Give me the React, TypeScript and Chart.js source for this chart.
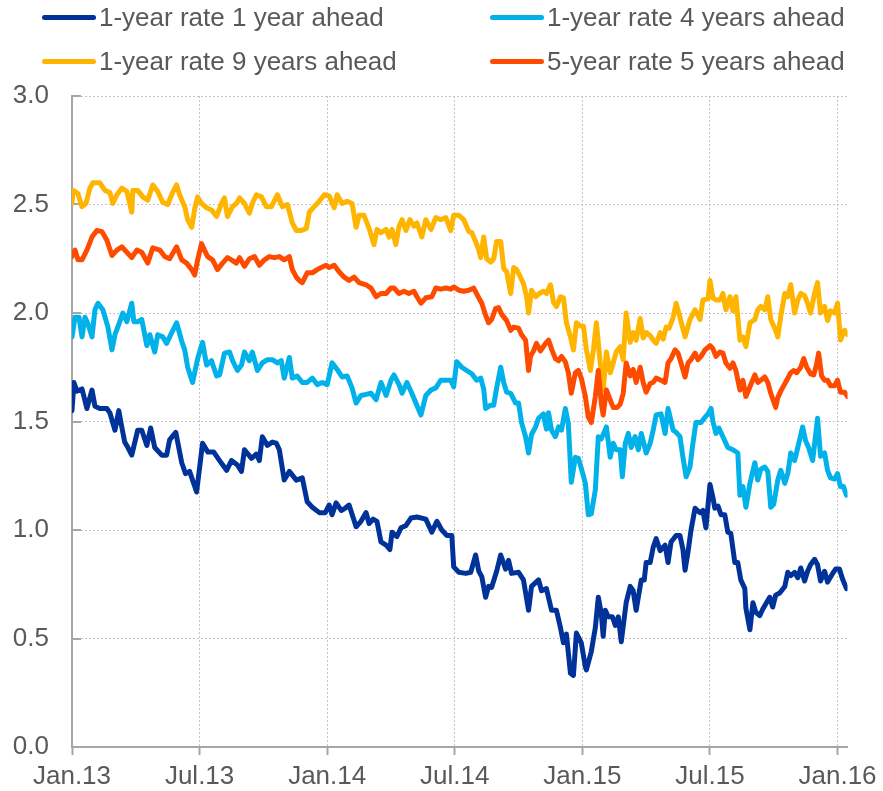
import React, { useEffect, useRef } from "react";
import { Chart, registerables } from "chart.js";

Chart.register(...registerables);

// x = months since January 2013, y = rate (%)
const xTickMonths = [0, 6, 12, 18, 24, 30, 36];
const xTickLabels = ["Jan.13", "Jul.13", "Jan.14", "Jul.14", "Jan.15", "Jul.15", "Jan.16"];
const yTicks = [0, 0.5, 1.0, 1.5, 2.0, 2.5, 3.0];

const seriesNames = [
  "1-year rate 1 year ahead",
  "1-year rate 4 years ahead",
  "1-year rate 9 years ahead",
  "5-year rate 5 years ahead",
];
const seriesColors = ["#003299", "#00B1EA", "#FFB400", "#FF4B00"];

const rate1y1y: [number, number][] = [
  [0, 1.55], [0.09, 1.68], [0.23, 1.64], [0.47, 1.65], [0.70, 1.56], [0.94, 1.645], [1.08, 1.57], [1.31, 1.56],
  [1.64, 1.56], [1.78, 1.54], [2.02, 1.46], [2.20, 1.55], [2.34, 1.475], [2.48, 1.405], [2.63, 1.38], [2.81, 1.345],
  [3.09, 1.46], [3.28, 1.46], [3.52, 1.39], [3.70, 1.47], [3.89, 1.38], [4.22, 1.345], [4.45, 1.345], [4.59, 1.415],
  [4.88, 1.45], [5.16, 1.31], [5.34, 1.26], [5.53, 1.27], [5.86, 1.175], [6.14, 1.40], [6.38, 1.36], [6.66, 1.36],
  [6.94, 1.32], [7.27, 1.275], [7.50, 1.32], [7.78, 1.30], [7.97, 1.27], [8.11, 1.37], [8.44, 1.33], [8.67, 1.35],
  [8.81, 1.32], [8.95, 1.43], [9.19, 1.39], [9.42, 1.405], [9.61, 1.40], [9.75, 1.37], [9.98, 1.23], [10.22, 1.27],
  [10.55, 1.23], [10.83, 1.24], [11.06, 1.13], [11.30, 1.105], [11.63, 1.08], [11.91, 1.08], [12.09, 1.115], [12.23, 1.07],
  [12.42, 1.125], [12.66, 1.09], [12.84, 1.10], [13.03, 1.115], [13.36, 1.015], [13.59, 1.04], [13.83, 1.08], [13.97, 1.03],
  [14.16, 1.05], [14.34, 1.04], [14.53, 0.945], [14.77, 0.93], [14.95, 0.91], [15.05, 0.99], [15.28, 0.97], [15.47, 1.01],
  [15.70, 1.02], [15.94, 1.055], [16.22, 1.06], [16.64, 1.05], [16.92, 0.99], [17.16, 1.04], [17.39, 1.0], [17.63, 0.975],
  [17.86, 0.975], [17.95, 0.83], [18.19, 0.805], [18.52, 0.80], [18.75, 0.805], [18.98, 0.885], [19.13, 0.81], [19.27, 0.785],
  [19.45, 0.69], [19.59, 0.74], [19.73, 0.735], [19.97, 0.81], [20.16, 0.885], [20.39, 0.82], [20.53, 0.86], [20.67, 0.80],
  [21.0, 0.805], [21.23, 0.77], [21.47, 0.63], [21.61, 0.74], [21.94, 0.77], [22.08, 0.72], [22.31, 0.73], [22.55, 0.63],
  [22.78, 0.63], [22.97, 0.55], [23.11, 0.48], [23.25, 0.52], [23.44, 0.34], [23.58, 0.33], [23.72, 0.525], [23.95, 0.48],
  [24.14, 0.37], [24.19, 0.355], [24.42, 0.44], [24.61, 0.55], [24.75, 0.69], [24.89, 0.615], [24.98, 0.51], [25.08, 0.63],
  [25.22, 0.60], [25.41, 0.60], [25.55, 0.56], [25.69, 0.60], [25.83, 0.485], [26.06, 0.665], [26.25, 0.74], [26.39, 0.72],
  [26.53, 0.63], [26.63, 0.69], [26.77, 0.77], [26.91, 0.77], [27.0, 0.85], [27.19, 0.85], [27.33, 0.92], [27.47, 0.96],
  [27.66, 0.905], [27.89, 0.93], [28.03, 0.85], [28.17, 0.945], [28.41, 0.975], [28.59, 0.975], [28.73, 0.91], [28.83, 0.815],
  [28.97, 0.90], [29.11, 1.0], [29.30, 1.10], [29.53, 1.08], [29.67, 1.09], [29.81, 1.01], [30.0, 1.21], [30.14, 1.15],
  [30.23, 1.10], [30.38, 1.11], [30.52, 1.07], [30.70, 1.07], [30.84, 0.99], [30.98, 0.985], [31.17, 0.85], [31.31, 0.85],
  [31.45, 0.77], [31.64, 0.73], [31.69, 0.64], [31.88, 0.54], [32.02, 0.665], [32.16, 0.62], [32.34, 0.605], [32.48, 0.635],
  [32.63, 0.66], [32.81, 0.69], [32.95, 0.645], [33.09, 0.70], [33.28, 0.71], [33.52, 0.74], [33.66, 0.805], [33.80, 0.79],
  [33.98, 0.805], [34.13, 0.78], [34.27, 0.825], [34.45, 0.765], [34.59, 0.81], [34.73, 0.84], [34.92, 0.865], [35.06, 0.84],
  [35.20, 0.765], [35.39, 0.81], [35.53, 0.76], [35.77, 0.80], [35.91, 0.82], [36.09, 0.82], [36.23, 0.775], [36.42, 0.73],
];

const rate1y4y: [number, number][] = [
  [0, 1.89], [0.14, 1.98], [0.33, 1.98], [0.47, 1.89], [0.61, 1.98], [0.75, 1.95], [0.94, 1.89], [1.08, 2.015],
  [1.22, 2.045], [1.45, 2.015], [1.69, 1.935], [1.88, 1.83], [2.02, 1.90], [2.25, 1.96], [2.39, 2.0], [2.58, 1.96],
  [2.81, 2.045], [2.91, 1.96], [3.09, 1.96], [3.28, 1.97], [3.52, 1.85], [3.66, 1.90], [3.89, 1.82], [4.03, 1.90],
  [4.27, 1.89], [4.45, 1.86], [4.69, 1.91], [4.92, 1.955], [5.16, 1.87], [5.30, 1.83], [5.44, 1.75], [5.67, 1.68],
  [5.91, 1.79], [6.14, 1.865], [6.33, 1.76], [6.56, 1.78], [6.80, 1.71], [6.94, 1.715], [7.17, 1.815], [7.41, 1.82],
  [7.55, 1.78], [7.78, 1.735], [7.97, 1.76], [8.11, 1.82], [8.34, 1.78], [8.48, 1.82], [8.72, 1.735], [8.95, 1.77],
  [9.19, 1.785], [9.42, 1.785], [9.66, 1.77], [9.84, 1.78], [9.98, 1.70], [10.22, 1.795], [10.36, 1.70], [10.59, 1.71],
  [10.83, 1.68], [11.06, 1.68], [11.30, 1.70], [11.53, 1.67], [11.77, 1.68], [12.0, 1.67], [12.23, 1.77], [12.47, 1.74],
  [12.70, 1.705], [12.94, 1.71], [13.17, 1.655], [13.36, 1.585], [13.59, 1.62], [13.83, 1.625], [14.06, 1.63], [14.30, 1.60],
  [14.53, 1.68], [14.77, 1.62], [15.0, 1.69], [15.14, 1.715], [15.38, 1.67], [15.52, 1.63], [15.75, 1.68], [15.98, 1.63],
  [16.17, 1.585], [16.41, 1.53], [16.64, 1.62], [16.88, 1.645], [17.11, 1.655], [17.34, 1.69], [17.58, 1.69], [17.81, 1.69],
  [17.95, 1.66], [18.09, 1.775], [18.33, 1.75], [18.56, 1.735], [18.80, 1.72], [19.03, 1.69], [19.22, 1.70], [19.36, 1.65],
  [19.45, 1.56], [19.69, 1.575], [19.83, 1.575], [19.97, 1.655], [20.16, 1.75], [20.30, 1.68], [20.44, 1.635], [20.63, 1.63],
  [20.86, 1.585], [21.0, 1.585], [21.14, 1.495], [21.33, 1.43], [21.47, 1.355], [21.61, 1.44], [21.80, 1.475], [21.94, 1.515],
  [22.17, 1.535], [22.31, 1.465], [22.41, 1.54], [22.55, 1.46], [22.73, 1.43], [22.88, 1.475], [23.02, 1.46], [23.20, 1.56],
  [23.34, 1.49], [23.48, 1.22], [23.67, 1.335], [23.81, 1.33], [23.95, 1.285], [24.14, 1.215], [24.28, 1.07], [24.42, 1.075],
  [24.61, 1.185], [24.75, 1.43], [24.89, 1.42], [25.13, 1.475], [25.31, 1.335], [25.45, 1.40], [25.59, 1.37], [25.78, 1.37],
  [25.88, 1.245], [26.02, 1.40], [26.16, 1.445], [26.30, 1.38], [26.48, 1.43], [26.63, 1.37], [26.77, 1.445], [27.0, 1.355],
  [27.19, 1.40], [27.33, 1.46], [27.47, 1.53], [27.70, 1.535], [27.89, 1.445], [28.03, 1.56], [28.27, 1.46], [28.41, 1.45],
  [28.59, 1.43], [28.73, 1.335], [28.88, 1.245], [29.06, 1.29], [29.20, 1.40], [29.34, 1.495], [29.58, 1.495], [29.77, 1.52],
  [29.91, 1.535], [30.05, 1.56], [30.14, 1.50], [30.28, 1.445], [30.42, 1.47], [30.61, 1.43], [30.84, 1.38], [31.08, 1.37],
  [31.31, 1.355], [31.41, 1.16], [31.55, 1.20], [31.69, 1.105], [31.88, 1.215], [32.11, 1.31], [32.25, 1.23], [32.39, 1.28],
  [32.58, 1.29], [32.72, 1.27], [32.86, 1.105], [33.0, 1.12], [33.19, 1.23], [33.33, 1.275], [33.52, 1.215], [33.66, 1.26],
  [33.80, 1.355], [33.98, 1.32], [34.13, 1.38], [34.36, 1.475], [34.50, 1.41], [34.64, 1.38], [34.83, 1.32], [35.06, 1.515],
  [35.20, 1.34], [35.39, 1.355], [35.53, 1.275], [35.67, 1.24], [35.86, 1.235], [36.0, 1.26], [36.14, 1.20], [36.28, 1.20],
  [36.42, 1.16],
];

const rate1y9y: [number, number][] = [
  [0, 2.505], [0.05, 2.565], [0.28, 2.55], [0.47, 2.49], [0.66, 2.505], [0.84, 2.575], [0.98, 2.60], [1.31, 2.60],
  [1.55, 2.565], [1.78, 2.555], [1.92, 2.505], [2.11, 2.545], [2.34, 2.575], [2.58, 2.56], [2.81, 2.465], [2.86, 2.565],
  [3.09, 2.565], [3.33, 2.535], [3.56, 2.52], [3.80, 2.59], [4.03, 2.56], [4.27, 2.51], [4.50, 2.50], [4.73, 2.555],
  [4.92, 2.59], [5.06, 2.545], [5.30, 2.49], [5.44, 2.43], [5.63, 2.395], [5.77, 2.48], [5.91, 2.535], [6.09, 2.505],
  [6.33, 2.485], [6.56, 2.475], [6.80, 2.445], [7.03, 2.505], [7.17, 2.53], [7.31, 2.445], [7.55, 2.49], [7.73, 2.505],
  [7.88, 2.53], [8.11, 2.505], [8.34, 2.46], [8.48, 2.505], [8.67, 2.545], [8.91, 2.535], [9.14, 2.49], [9.38, 2.49],
  [9.66, 2.545], [9.89, 2.49], [10.13, 2.50], [10.36, 2.415], [10.55, 2.38], [10.78, 2.38], [11.02, 2.39], [11.16, 2.465],
  [11.39, 2.49], [11.63, 2.515], [11.86, 2.545], [12.09, 2.54], [12.33, 2.485], [12.47, 2.545], [12.70, 2.505], [12.94, 2.515],
  [13.17, 2.505], [13.36, 2.395], [13.50, 2.45], [13.73, 2.45], [13.97, 2.39], [14.20, 2.315], [14.34, 2.385], [14.53, 2.37],
  [14.77, 2.385], [14.91, 2.35], [15.05, 2.385], [15.23, 2.315], [15.38, 2.40], [15.52, 2.43], [15.70, 2.38], [15.89, 2.43],
  [16.08, 2.40], [16.22, 2.415], [16.45, 2.35], [16.64, 2.43], [16.88, 2.385], [17.11, 2.44], [17.34, 2.43], [17.58, 2.44],
  [17.81, 2.38], [17.95, 2.45], [18.19, 2.45], [18.42, 2.43], [18.66, 2.375], [18.80, 2.37], [18.98, 2.33], [19.13, 2.29],
  [19.22, 2.255], [19.36, 2.35], [19.50, 2.25], [19.69, 2.235], [19.83, 2.25], [19.97, 2.33], [20.16, 2.33], [20.30, 2.205],
  [20.44, 2.19], [20.63, 2.09], [20.77, 2.21], [20.91, 2.20], [21.09, 2.165], [21.23, 2.135], [21.38, 2.075], [21.47, 2.0],
  [21.61, 2.105], [21.80, 2.075], [21.98, 2.09], [22.17, 2.10], [22.31, 2.09], [22.50, 2.13], [22.64, 2.05], [22.78, 2.03],
  [22.97, 2.075], [23.11, 2.07], [23.25, 1.955], [23.44, 1.89], [23.58, 1.83], [23.72, 1.955], [23.91, 1.94], [24.05, 1.94],
  [24.19, 1.83], [24.38, 1.735], [24.52, 1.83], [24.66, 1.955], [24.84, 1.77], [24.98, 1.645], [25.13, 1.82], [25.31, 1.725],
  [25.45, 1.77], [25.59, 1.82], [25.78, 1.845], [25.92, 1.785], [26.06, 2.0], [26.25, 1.865], [26.39, 1.91], [26.53, 1.875],
  [26.72, 1.975], [26.86, 1.885], [27.0, 1.91], [27.19, 1.895], [27.33, 1.875], [27.47, 1.86], [27.66, 1.91], [27.80, 1.88],
  [27.94, 1.935], [28.08, 1.93], [28.27, 1.98], [28.41, 2.045], [28.59, 1.98], [28.83, 1.89], [29.06, 1.97], [29.30, 2.015],
  [29.53, 1.97], [29.67, 2.06], [29.91, 2.065], [30.0, 2.15], [30.14, 2.07], [30.28, 2.06], [30.47, 2.06], [30.61, 2.09],
  [30.75, 2.015], [30.94, 2.075], [31.08, 2.01], [31.22, 2.075], [31.41, 1.875], [31.55, 1.89], [31.69, 1.845], [31.88, 1.955],
  [32.11, 1.97], [32.25, 2.015], [32.39, 2.03], [32.58, 2.015], [32.72, 2.075], [32.86, 1.97], [33.09, 1.92], [33.19, 1.89],
  [33.33, 1.985], [33.52, 2.09], [33.66, 2.075], [33.80, 2.13], [33.98, 2.0], [34.13, 2.06], [34.27, 2.09], [34.45, 2.08],
  [34.59, 2.045], [34.73, 2.0], [34.92, 2.09], [35.06, 2.14], [35.20, 2.0], [35.39, 2.03], [35.53, 1.965], [35.67, 2.01],
  [35.86, 2.0], [36.0, 2.045], [36.14, 1.875], [36.33, 1.92], [36.47, 1.90],
];

const rate5y5y: [number, number][] = [
  [0, 2.26], [0.14, 2.29], [0.28, 2.245], [0.47, 2.245], [0.70, 2.29], [0.94, 2.35], [1.17, 2.38], [1.41, 2.375],
  [1.64, 2.335], [1.88, 2.265], [2.11, 2.29], [2.34, 2.305], [2.58, 2.28], [2.81, 2.255], [3.05, 2.29], [3.28, 2.28],
  [3.56, 2.23], [3.80, 2.30], [4.13, 2.29], [4.36, 2.26], [4.59, 2.25], [4.92, 2.305], [5.16, 2.245], [5.39, 2.23],
  [5.63, 2.20], [5.77, 2.175], [5.91, 2.245], [6.09, 2.32], [6.23, 2.29], [6.38, 2.26], [6.61, 2.245], [6.84, 2.20],
  [7.08, 2.23], [7.31, 2.255], [7.50, 2.245], [7.73, 2.23], [7.88, 2.255], [8.11, 2.215], [8.34, 2.25], [8.58, 2.26],
  [8.81, 2.22], [9.05, 2.245], [9.28, 2.26], [9.52, 2.255], [9.75, 2.26], [9.98, 2.245], [10.22, 2.26], [10.36, 2.20],
  [10.55, 2.165], [10.69, 2.15], [10.83, 2.14], [11.06, 2.185], [11.30, 2.185], [11.53, 2.20], [11.72, 2.21], [11.95, 2.22],
  [12.09, 2.21], [12.33, 2.22], [12.56, 2.19], [12.80, 2.165], [13.03, 2.15], [13.27, 2.165], [13.50, 2.14], [13.83, 2.13],
  [14.06, 2.115], [14.30, 2.075], [14.53, 2.09], [14.77, 2.09], [15.0, 2.115], [15.14, 2.115], [15.38, 2.09], [15.61, 2.10],
  [15.84, 2.09], [16.08, 2.10], [16.22, 2.075], [16.41, 2.045], [16.64, 2.07], [16.92, 2.075], [17.11, 2.115], [17.34, 2.11],
  [17.58, 2.115], [17.81, 2.11], [17.95, 2.12], [18.19, 2.105], [18.42, 2.10], [18.66, 2.105], [18.89, 2.115], [19.13, 2.07],
  [19.27, 2.045], [19.45, 1.99], [19.59, 1.955], [19.73, 1.97], [19.92, 2.02], [20.06, 2.025], [20.20, 1.995], [20.44, 1.965],
  [20.63, 1.92], [20.77, 1.935], [21.0, 1.93], [21.14, 1.90], [21.33, 1.875], [21.47, 1.735], [21.56, 1.80], [21.70, 1.825],
  [21.84, 1.86], [22.03, 1.825], [22.27, 1.86], [22.41, 1.875], [22.55, 1.835], [22.73, 1.79], [22.88, 1.78], [23.02, 1.80],
  [23.20, 1.775], [23.34, 1.725], [23.48, 1.63], [23.67, 1.725], [23.81, 1.735], [23.95, 1.70], [24.14, 1.615], [24.28, 1.52],
  [24.42, 1.495], [24.61, 1.615], [24.75, 1.735], [24.89, 1.585], [24.98, 1.53], [25.13, 1.645], [25.31, 1.60], [25.45, 1.565],
  [25.64, 1.565], [25.78, 1.58], [25.92, 1.63], [26.06, 1.77], [26.25, 1.71], [26.39, 1.74], [26.53, 1.68], [26.72, 1.75],
  [26.86, 1.68], [27.0, 1.635], [27.19, 1.675], [27.33, 1.68], [27.47, 1.70], [27.70, 1.69], [27.89, 1.68], [28.03, 1.77],
  [28.17, 1.79], [28.36, 1.83], [28.50, 1.815], [28.64, 1.77], [28.83, 1.705], [28.97, 1.77], [29.11, 1.785], [29.30, 1.815],
  [29.44, 1.785], [29.58, 1.80], [29.77, 1.83], [30.0, 1.85], [30.14, 1.835], [30.28, 1.80], [30.47, 1.82], [30.61, 1.815],
  [30.75, 1.77], [30.94, 1.745], [31.08, 1.77], [31.22, 1.735], [31.41, 1.645], [31.55, 1.69], [31.69, 1.615], [31.88, 1.66],
  [32.11, 1.715], [32.25, 1.68], [32.39, 1.69], [32.58, 1.705], [32.72, 1.68], [32.86, 1.63], [33.09, 1.565], [33.19, 1.61],
  [33.33, 1.64], [33.61, 1.69], [33.80, 1.725], [33.94, 1.735], [34.08, 1.725], [34.27, 1.75], [34.41, 1.79], [34.55, 1.75],
  [34.73, 1.72], [34.88, 1.715], [35.02, 1.765], [35.11, 1.815], [35.25, 1.71], [35.39, 1.69], [35.53, 1.69], [35.67, 1.665],
  [35.86, 1.665], [36.0, 1.69], [36.14, 1.635], [36.33, 1.635], [36.47, 1.615],
];

const allSeries = [rate1y1y, rate1y4y, rate1y9y, rate5y5y];

const FONT = "'Liberation Sans', Arial, sans-serif";
const TEXT = "#595959";
const AXIS = "#a6a6a6";
const GRID = "#c4c4c4";

const yInsideTicks = {
  id: "yInsideTicks",
  beforeDatasetsDraw(chart: any) {
    const { ctx, chartArea } = chart;
    const y = chart.scales.y;
    ctx.save();
    ctx.strokeStyle = AXIS;
    ctx.lineWidth = 2;
    y.ticks.forEach((t: any) => {
      const py = Math.round(y.getPixelForValue(t.value));
      ctx.beginPath();
      ctx.moveTo(chartArea.left, py);
      ctx.lineTo(chartArea.left + 9, py);
      ctx.stroke();
    });
    ctx.restore();
  },
};

export default function App() {
  const ref = useRef<HTMLCanvasElement | null>(null);

  useEffect(() => {
    if (!ref.current) return;
    const chart = new Chart(ref.current, {
      type: "line",
      data: {
        datasets: allSeries.map((s, i) => ({
          label: seriesNames[i],
          data: s.map(([x, y]) => ({ x, y })),
          borderColor: seriesColors[i],
          backgroundColor: seriesColors[i],
          borderWidth: 5,
          pointRadius: 0,
          tension: 0,
          borderJoinStyle: "round" as const,
          borderCapStyle: "round" as const,
          order: 4 - i,
        })),
      },
      options: {
        responsive: false,
        animation: false,
        devicePixelRatio: 1,
        layout: { padding: { top: 96, right: 33, left: 0, bottom: 0 } },
        plugins: { legend: { display: false }, tooltip: { enabled: false } },
        scales: {
          x: {
            type: "linear",
            min: 0,
            max: 36.47,
            afterBuildTicks: (scale: any) => {
              scale.ticks = xTickMonths.map((v) => ({ value: v }));
            },
            afterFit: (scale: any) => {
              scale.height = 44;
            },
            ticks: {
              autoSkip: false,
              maxRotation: 0,
              padding: 6,
              color: TEXT,
              font: { family: FONT, size: 26 },
              callback: (v: any) => {
                const idx = xTickMonths.indexOf(Number(v));
                return idx >= 0 ? xTickLabels[idx] : "";
              },
            },
            grid: {
              color: GRID,
              lineWidth: 1,
              drawTicks: true,
              tickLength: 8,
              tickColor: AXIS,
              tickWidth: 2,
              tickBorderDash: [],
            } as any,
            border: { color: AXIS, width: 2, dash: [2, 2] },
          },
          y: {
            min: 0,
            max: 3,
            afterBuildTicks: (scale: any) => {
              scale.ticks = yTicks.map((v) => ({ value: v }));
            },
            afterFit: (scale: any) => {
              scale.width = 72;
            },
            ticks: {
              padding: 23,
              color: TEXT,
              font: { family: FONT, size: 26 },
              callback: (v: any) => Number(v).toFixed(1),
            },
            grid: { color: GRID, lineWidth: 1, drawTicks: false },
            border: { color: AXIS, width: 2, dash: [2, 2] },
          },
        },
      },
      plugins: [yInsideTicks],
    });
    return () => chart.destroy();
  }, []);

  const legendPos = [
    { left: 42, top: 17 },
    { left: 490, top: 17 },
    { left: 42, top: 61 },
    { left: 490, top: 61 },
  ];

  return (
    <div style={{ position: "absolute", left: 0, top: 0, width: 883, height: 791, background: "#fff" }}>
      <canvas ref={ref} width={883} height={791} style={{ position: "absolute", left: 0, top: 0, width: 883, height: 791 }} />
      {seriesNames.map((name, i) => (
        <div
          key={name}
          style={{
            position: "absolute",
            left: legendPos[i].left,
            top: legendPos[i].top - 16,
            height: 32,
            display: "flex",
            alignItems: "center",
            whiteSpace: "nowrap",
          }}
        >
          <span
            style={{
              display: "inline-block",
              width: 54,
              height: 5,
              borderRadius: 3,
              background: seriesColors[i],
            }}
          />
          <span style={{ marginLeft: 3, fontFamily: FONT, fontSize: 26, color: TEXT, lineHeight: "32px" }}>{name}</span>
        </div>
      ))}
    </div>
  );
}
